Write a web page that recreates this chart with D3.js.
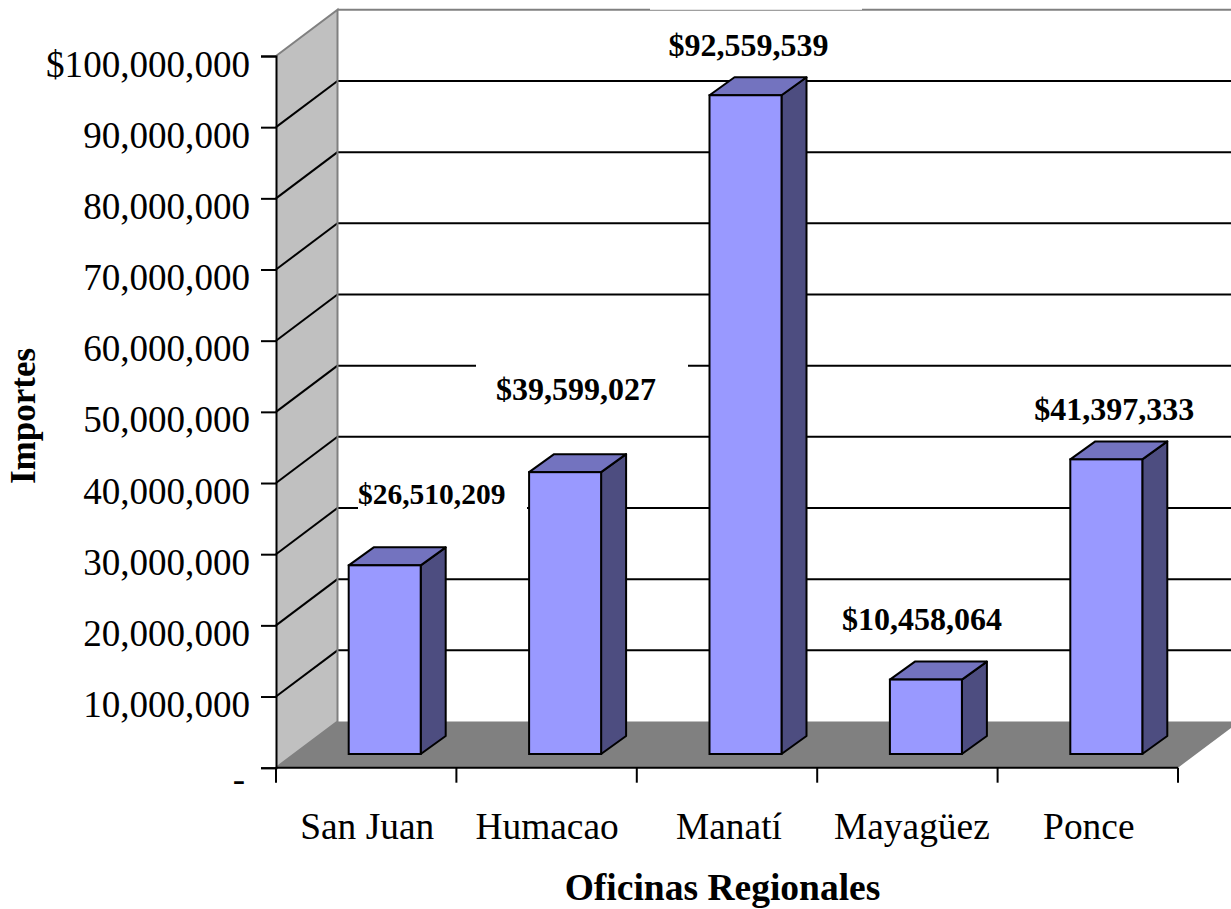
<!DOCTYPE html>
<html>
<head>
<meta charset="utf-8">
<script src="https://cdn.jsdelivr.net/npm/d3@7"></script>
<style>
  html, body { margin: 0; padding: 0; background: #fff; overflow: hidden; }
  text { font-family: "Liberation Serif", serif; fill: #000; }
</style>
</head>
<body>
<div id="content"></div>
<script>
// chart data
var oficinas = ["San Juan", "Humacao", "Manatí", "Mayagüez", "Ponce"];
var importes = [26510209, 39599027, 92559539, 10458064, 41397333];
var yTicks = [0, 10000000, 20000000, 30000000, 40000000, 50000000, 60000000, 70000000, 80000000, 90000000, 100000000];

var width = 1231, height = 909;

// set the ranges (front plane of the 3d box)
var x = d3.scaleBand().domain(oficinas).range([276, 1178]);
var y = d3.scaleLinear().domain([0, 100000000]).range([767.7, 56]);

// depth of the box and of the bars
var wallDx = 61.5, wallDy = -46.2;
var barOffX = 18.5, barOffY = -13.7;
var barDx = 25, barDy = -18;
var barW = 72;

// labels were placed by hand in the original: offset from bar top centre
var labelDx = [47, 11, 3, -4, 8];
var labelDy = [-43, -54, -21, -32, -21];
var catDx = [1, 0.5, 2, 4.5, 1];

var fmtTick = function(d) {
  if (d === 0) return "-";
  return (d === 100000000 ? "$" : "") + d3.format(",")(d);
};
var fmtLabel = d3.format("$,");

var svg = d3.select("#content").append("svg")
  .attr("width", width)
  .attr("height", height);

var poly = function(pts) { return "M" + pts.join("L") + "Z"; };

// side wall and floor
svg.append("path")
  .attr("d", poly([[276, y(0)], [276, y(100000000)], [276 + wallDx, y(100000000) + wallDy], [276 + wallDx, y(0) + wallDy]]))
  .attr("fill", "#c0c0c0");
svg.append("path")
  .attr("d", poly([[276, y(0)], [276 + wallDx, y(0) + wallDy], [1178 + wallDx, y(0) + wallDy], [1178, y(0)]]))
  .attr("fill", "#808080");

// grid lines, side wall then back wall
var grid = yTicks.slice(1, 10);
svg.selectAll(".gridSide").data(grid).enter().append("line")
  .attr("x1", 276).attr("y1", y)
  .attr("x2", 276 + wallDx).attr("y2", function(d) { return y(d) + wallDy; })
  .attr("stroke", "#000").attr("stroke-width", 2);
svg.selectAll(".gridBack").data(grid).enter().append("line")
  .attr("x1", 276 + wallDx).attr("y1", function(d) { return y(d) + wallDy; })
  .attr("x2", width).attr("y2", function(d) { return y(d) + wallDy; })
  .attr("stroke", "#000").attr("stroke-width", 2);

// gray box edges
var edge = "M" + [[276, y(0)], [276 + wallDx, y(0) + wallDy], [276 + wallDx, y(100000000) + wallDy], [276, y(100000000)]].join("L");
svg.append("path").attr("d", edge).attr("fill", "none").attr("stroke", "#808080").attr("stroke-width", 2);
svg.append("line")
  .attr("x1", 276 + wallDx).attr("y1", y(100000000) + wallDy)
  .attr("x2", width).attr("y2", y(100000000) + wallDy)
  .attr("stroke", "#808080").attr("stroke-width", 2);

// white boxes behind two labels cut the grid lines
var labelBoxes = [[358, 527, 30000000], [476, 688, 50000000]];
labelBoxes.forEach(function(b) {
  svg.append("rect")
    .attr("x", b[0]).attr("width", b[1] - b[0])
    .attr("y", y(b[2]) + wallDy - 3).attr("height", 6)
    .attr("fill", "#fff");
});
// the box of the tallest label shaves the top edge
svg.append("rect")
  .attr("x", 650).attr("width", 212)
  .attr("y", 8).attr("height", y(100000000) + wallDy - 8)
  .attr("fill", "#fff");

// bars
var bars = svg.selectAll(".bar").data(oficinas).enter().append("g").attr("class", "bar");
var bx = function(d) { return x(d) + (x.bandwidth() - barW) / 2 + barOffX; };
var by0 = y(0) + barOffY;
var byv = function(i) { return y(importes[i]) + barOffY; };
bars.append("path") // side
  .attr("d", function(d, i) {
    var r = bx(d) + barW;
    return poly([[r, by0], [r, byv(i)], [r + barDx, byv(i) + barDy], [r + barDx, by0 + barDy]]);
  })
  .attr("fill", "#4d4d80").attr("stroke", "#000").attr("stroke-width", 2).attr("stroke-linejoin", "round");
bars.append("path") // top
  .attr("d", function(d, i) {
    var l = bx(d), r = l + barW;
    return poly([[l, byv(i)], [r, byv(i)], [r + barDx, byv(i) + barDy], [l + barDx, byv(i) + barDy]]);
  })
  .attr("fill", "#7373bf").attr("stroke", "#000").attr("stroke-width", 2).attr("stroke-linejoin", "round");
bars.append("rect") // front
  .attr("x", bx).attr("width", barW)
  .attr("y", function(d, i) { return byv(i); })
  .attr("height", function(d, i) { return by0 - byv(i); })
  .attr("fill", "#9999ff").attr("stroke", "#000").attr("stroke-width", 2);

// y axis
var yAxis = svg.append("g").attr("transform", "translate(276,0)")
  .call(d3.axisLeft(y).tickValues(yTicks).tickFormat(fmtTick).tickSize(15).tickPadding(11));
yAxis.selectAll("line").attr("stroke", "#000").attr("stroke-width", 2);
yAxis.select(".domain").attr("stroke", "#000").attr("stroke-width", 2);
yAxis.selectAll("text")
  .attr("font-size", 37.1)
  .attr("font-family", "Liberation Serif")
  .attr("fill", "#000")
  .attr("dy", function(d) { return d === 0 ? 24 : 20; })
  .attr("dx", function(d) { return d === 0 ? -5 : 0; });

// x axis
var xAxis = svg.append("g").attr("transform", "translate(0," + y(0) + ")");
xAxis.append("line").attr("x1", 276).attr("x2", 1178).attr("stroke", "#000").attr("stroke-width", 2);
xAxis.selectAll(".tick").data(oficinas.concat([null])).enter().append("line")
  .attr("x1", function(d, i) { return 276 + i * x.step(); })
  .attr("x2", function(d, i) { return 276 + i * x.step(); })
  .attr("y1", 0).attr("y2", 15)
  .attr("stroke", "#000").attr("stroke-width", 2);
xAxis.selectAll(".cat").data(oficinas).enter().append("text")
  .attr("x", function(d, i) { return x(d) + x.bandwidth() / 2 + catDx[i]; })
  .attr("y", 71)
  .attr("text-anchor", "middle")
  .attr("font-size", 37.4)
  .text(function(d) { return d; });

// value labels
svg.selectAll(".val").data(oficinas).enter().append("text")
  .attr("x", function(d, i) { return bx(d) + barW / 2 + labelDx[i]; })
  .attr("y", function(d, i) { return byv(i) + barDy + labelDy[i]; })
  .attr("text-anchor", "middle")
  .attr("font-size", function(d, i) { return i === 0 ? 29.5 : 32; })
  .attr("font-weight", "bold")
  .text(function(d, i) { return fmtLabel(importes[i]); });

// axis titles
svg.append("text")
  .attr("x", 722.5).attr("y", 900)
  .attr("text-anchor", "middle")
  .attr("font-size", 37.5)
  .attr("font-weight", "bold")
  .text("Oficinas Regionales");
svg.append("text")
  .attr("transform", "translate(35,416) rotate(-90)")
  .attr("text-anchor", "middle")
  .attr("font-size", 35)
  .attr("font-weight", "bold")
  .text("Importes");
</script>
</body>
</html>
